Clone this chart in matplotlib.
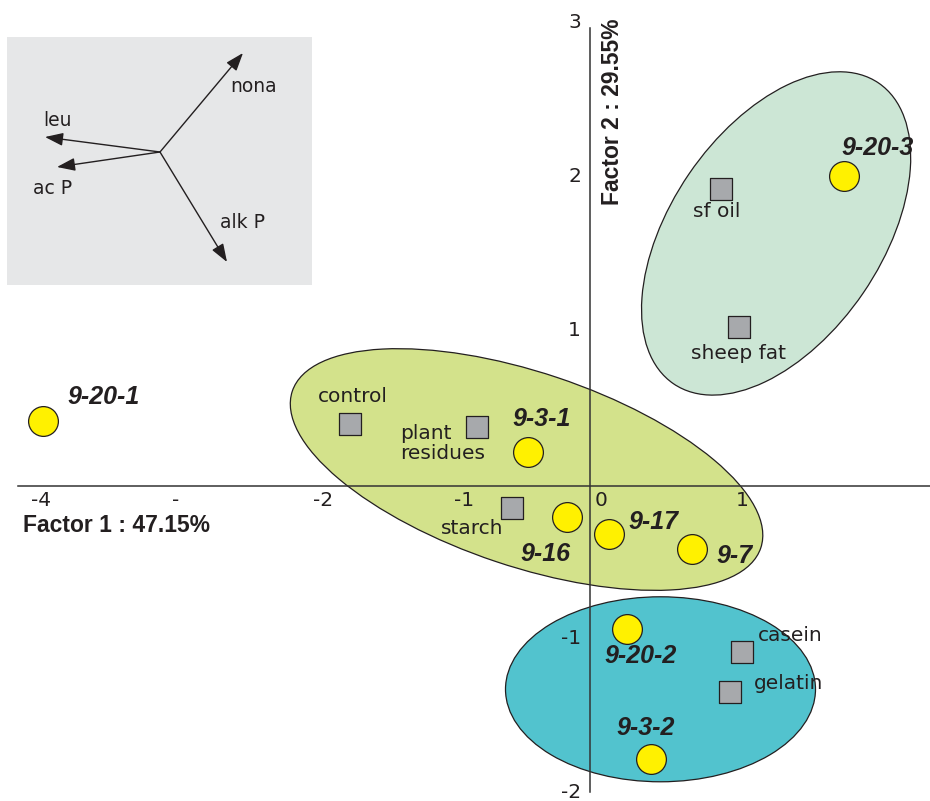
import matplotlib
matplotlib.use("Agg")
import matplotlib.pyplot as plt
from matplotlib.patches import Ellipse
from matplotlib.transforms import ScaledTranslation

# scores of the soil samples (yellow circles)
samples = ["9-20-1", "9-3-1", "9-16", "9-17", "9-7", "9-20-3", "9-20-2", "9-3-2"]
sample_f1 = [-3.88, -0.44, -0.16, 0.135, 0.72, 1.80, 0.26, 0.43]
sample_f2 = [0.42, 0.22, -0.20, -0.31, -0.41, 2.01, -0.93, -1.77]

# scores of the reference substrates (grey squares)
refs = ["control", "plant\nresidues", "starch", "sf oil", "sheep fat", "casein", "gelatin"]
ref_f1 = [-1.70, -0.80, -0.55, 0.93, 1.06, 1.08, 0.99]
ref_f2 = [0.40, 0.38, -0.14, 1.93, 1.03, -1.08, -1.34]

# groups: centre (factor units), axes in pixels, tilt in degrees
group_cx = [1.32, -0.45, 0.50]
group_cy = [1.64, 0.107, -1.32]
group_w = [364, 494, 310]
group_h = [211, 194, 185]
group_ang = [55.7, -18.5, 0]
group_col = ["#cce6d5", "#d3e28b", "#52c3ce"]

# variable loadings for the small inset
variables = ["nona", "leu", "ac P", "alk P"]
load_x = [0.83, -1.15, -1.03, 0.67]
load_y = [0.99, 0.15, -0.15, -1.10]

xticks = [-4, -3, -2, -1, 0, 1]
xtick_labels = ["-4", "-", "-2", "-1", "0", "1"]
yticks = [3, 2, 1, -1, -2]

# label offsets in pixels (left edge / vertical centre)
sample_off = [(24, 24), (-16, 33), (-47, -37), (19, 12), (25, -7), (-2, 28), (-22, -27), (-34, 31)]
ref_off = [(-32, 28), (-77, -16), (-72, -21), (-28, -23), (-48, -26), (16, 17), (24, 9)]
var_off = [(0.70, 0.66), (-1.17, 0.32), (-1.27, -0.37), (0.60, -0.71)]

ink = "#231f20"
reg = "DejaVu Sans"

fig = plt.figure(figsize=(9.30, 8.01), dpi=100)
ax = fig.add_axes([0, 0, 1, 1])
ax.set_xlim(-590 / 141, 340 / 141)
ax.set_ylim(-315 / 154, 486 / 154)
ax.axis("off")

for cx, cy, w, h, a, c in zip(group_cx, group_cy, group_w, group_h, group_ang, group_col):
    tr = fig.dpi_scale_trans + ScaledTranslation(cx, cy, ax.transData)
    ax.add_patch(Ellipse((0, 0), w / 100, h / 100, angle=a, transform=tr,
                         facecolor=c, edgecolor=ink, lw=0.9, zorder=1))

ax.axhline(0, xmin=18 / 930, xmax=1, color="#333333", lw=1.1, zorder=2)
ax.axvline(0, ymin=9 / 801, ymax=773 / 801, color="#333333", lw=1.1, zorder=2)

for v, lab in zip(xticks, xtick_labels):
    ax.annotate(lab, (v, 0), xytext=(5, -5), textcoords="offset pixels",
                ha="left", va="top", fontsize=14.5, family=reg, color=ink)
for v in yticks:
    ax.annotate(str(v), (0, v), xytext=(-9, 2), textcoords="offset pixels",
                ha="right", va="center", fontsize=14.5, family=reg, color=ink)

ax.annotate("Factor 1 : 47.15%", (xticks[0], 0), xytext=(-3, -40), textcoords="offset pixels",
            ha="left", va="center", fontsize=16.5, fontweight="bold",
            family="Liberation Sans", color=ink)
ax.annotate("Factor 2 : 29.55%", (0, yticks[0]), xytext=(22, -88), textcoords="offset pixels",
            ha="center", va="center", rotation=90, fontsize=16.5, fontweight="bold",
            family="Liberation Sans", color=ink)

ax.scatter(ref_f1, ref_f2, s=240, marker="s", facecolor="#a7a9ac", edgecolor=ink,
           linewidths=0.9, zorder=3)
ax.scatter(sample_f1, sample_f2, s=460, marker="o", facecolor="#fff100", edgecolor=ink,
           linewidths=0.9, zorder=3)

for name, x, y, off in zip(samples, sample_f1, sample_f2, sample_off):
    ax.annotate(name, (x, y), xytext=off, textcoords="offset pixels", ha="left", va="center",
                fontsize=18, fontweight="bold", fontstyle="italic",
                family="Liberation Sans", color=ink, zorder=4)
for name, x, y, off in zip(refs, ref_f1, ref_f2, ref_off):
    ax.annotate(name, (x, y), xytext=off, textcoords="offset pixels", ha="left", va="center",
                fontsize=14.5, family=reg, color=ink, linespacing=1.1, zorder=4)

# inset with the variable vectors
ins = fig.add_axes([7 / 930, 1 - 285 / 801, 305 / 930, 248 / 801])
ins.set_facecolor("#e6e7e8")
ins.set_xlim(-1.53, 1.52)
ins.set_ylim(-1.33, 1.15)
ins.set_xticks([])
ins.set_yticks([])
for s in ins.spines.values():
    s.set_visible(False)
for name, lx, ly, (tx, ty) in zip(variables, load_x, load_y, var_off):
    ins.annotate("", xy=(lx, ly), xytext=(0, 0),
                 arrowprops=dict(arrowstyle="-|>,head_length=0.5,head_width=0.18", color=ink,
                                 lw=1.0, mutation_scale=22, shrinkA=0, shrinkB=0))
    ins.text(tx, ty, name, ha="left", va="center", fontsize=13.5, family=reg, color=ink)

fig.savefig("out.png", dpi=100)
